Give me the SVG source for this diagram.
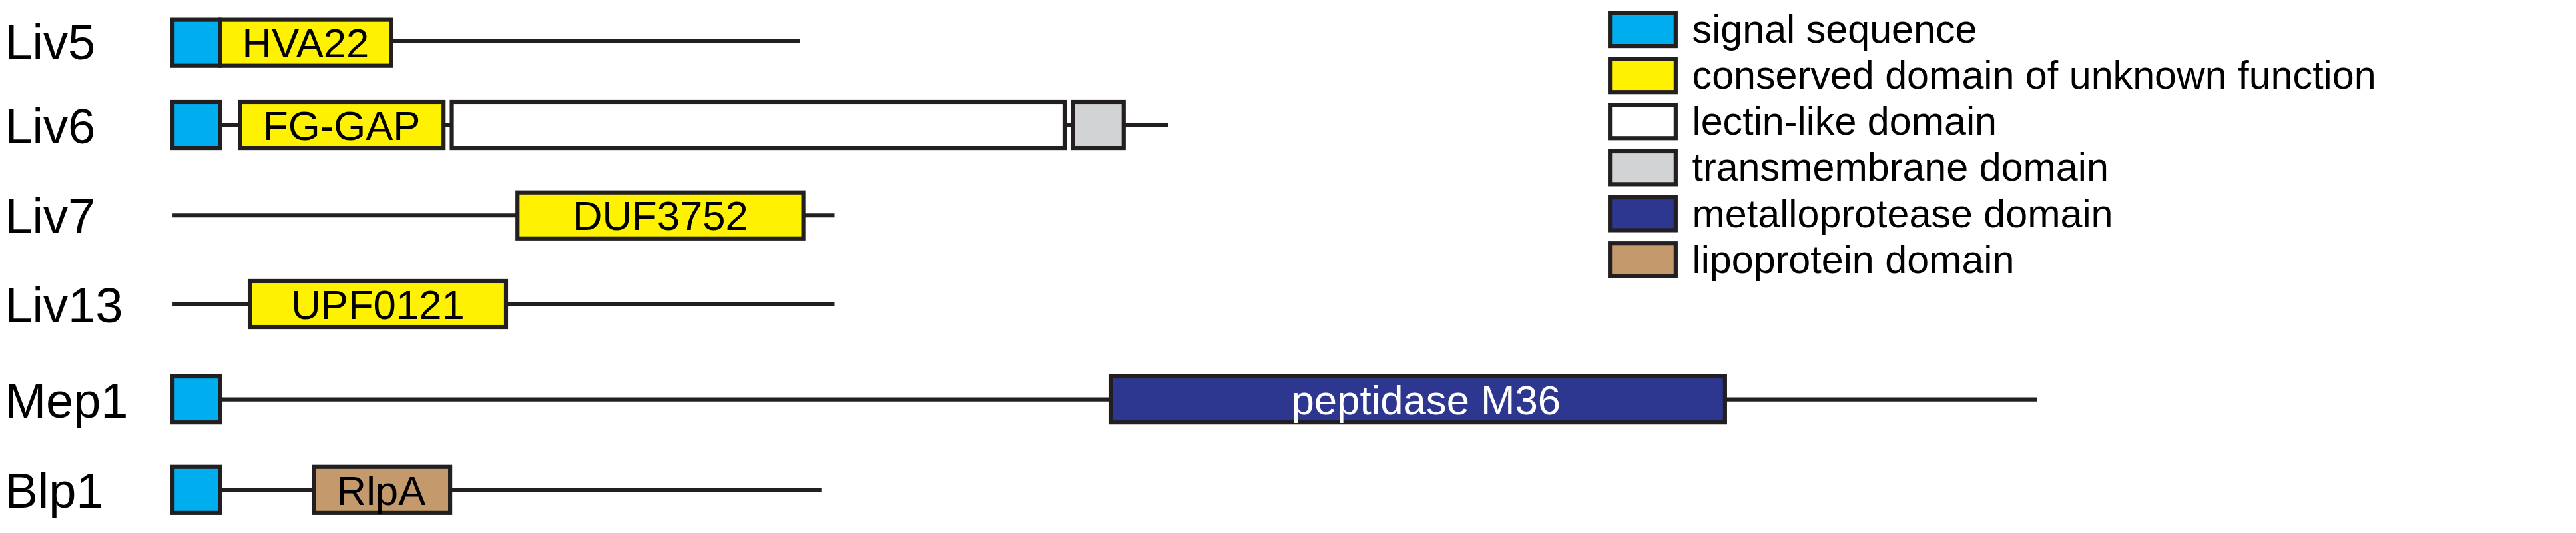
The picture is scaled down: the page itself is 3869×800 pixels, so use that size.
<svg xmlns="http://www.w3.org/2000/svg" width="3869" height="800" viewBox="0 0 3869 800">
<style>
.b{stroke:#231f20;stroke-width:2.5}
.l{stroke:#231f20;stroke-width:2.5;fill:none}
.sig{fill:#00aeef}.cdu{fill:#fff200}.lec{fill:#fff}.tm{fill:#d1d3d4}.met{fill:#2e3790}.lip{fill:#c49a6c}
text{font-family:"Liberation Sans",Arial,sans-serif}
.n{font-size:30px;fill:#000}
.d{font-size:25px;fill:#000;text-anchor:middle}
.g{font-size:24px;fill:#000}
</style>
<rect width="3869" height="800" fill="#fff"/>
<g transform="scale(2.4675)">
<g id="connectors">
<line class="l" x1="105" y1="25" x2="487" y2="25"/>
<line class="l" x1="105" y1="76" x2="711" y2="76"/>
<line class="l" x1="105" y1="131" x2="508" y2="131"/>
<line class="l" x1="105" y1="185" x2="508" y2="185"/>
<line class="l" x1="105" y1="243" x2="1240" y2="243"/>
<line class="l" x1="105" y1="298" x2="500" y2="298"/>
</g>
<g id="Liv5"><text class="n" x="3" y="36">Liv5</text>
<rect class="b sig" x="105" y="12" width="29" height="28"/>
<rect class="b cdu" x="134" y="12" width="104" height="28"/><text class="d" x="186" y="35">HVA22</text></g>
<g id="Liv6"><text class="n" x="3" y="87">Liv6</text>
<rect class="b sig" x="105" y="62" width="29" height="28"/>
<rect class="b cdu" x="146" y="62" width="124" height="28"/><text class="d" x="208" y="85">FG-GAP</text>
<rect class="b lec" x="275" y="62" width="373" height="28"/>
<rect class="b tm" x="653" y="62" width="31" height="28"/></g>
<g id="Liv7"><text class="n" x="3" y="142">Liv7</text>
<rect class="b cdu" x="315" y="117" width="174" height="28"/><text class="d" x="402" y="140">DUF3752</text></g>
<g id="Liv13"><text class="n" x="3" y="196">Liv13</text>
<rect class="b cdu" x="152" y="171" width="156" height="28"/><text class="d" x="230" y="194">UPF0121</text></g>
<g id="Mep1"><text class="n" x="3" y="254">Mep1</text>
<rect class="b sig" x="105" y="229" width="29" height="28"/>
<rect class="b met" x="676" y="229" width="374" height="28"/><text class="d" x="868" y="252" fill="#fff" style="fill:#fff">peptidase M36</text></g>
<g id="Blp1"><text class="n" x="3" y="309">Blp1</text>
<rect class="b sig" x="105" y="284" width="29" height="28"/>
<rect class="b lip" x="191" y="284" width="83" height="28"/><text class="d" x="232" y="307">RlpA</text></g>
<g id="legend">
<rect class="b sig" x="980" y="8" width="40" height="20"/><text class="g" x="1030" y="26">signal sequence</text>
<rect class="b cdu" x="980" y="36" width="40" height="20"/><text class="g" x="1030" y="54">conserved domain of unknown function</text>
<rect class="b lec" x="980" y="64" width="40" height="20"/><text class="g" x="1030" y="82">lectin-like domain</text>
<rect class="b tm" x="980" y="92" width="40" height="20"/><text class="g" x="1030" y="110">transmembrane domain</text>
<rect class="b met" x="980" y="120" width="40" height="20"/><text class="g" x="1030" y="138">metalloprotease domain</text>
<rect class="b lip" x="980" y="148" width="40" height="20"/><text class="g" x="1030" y="166">lipoprotein domain</text>
</g>
</g>
</svg>
